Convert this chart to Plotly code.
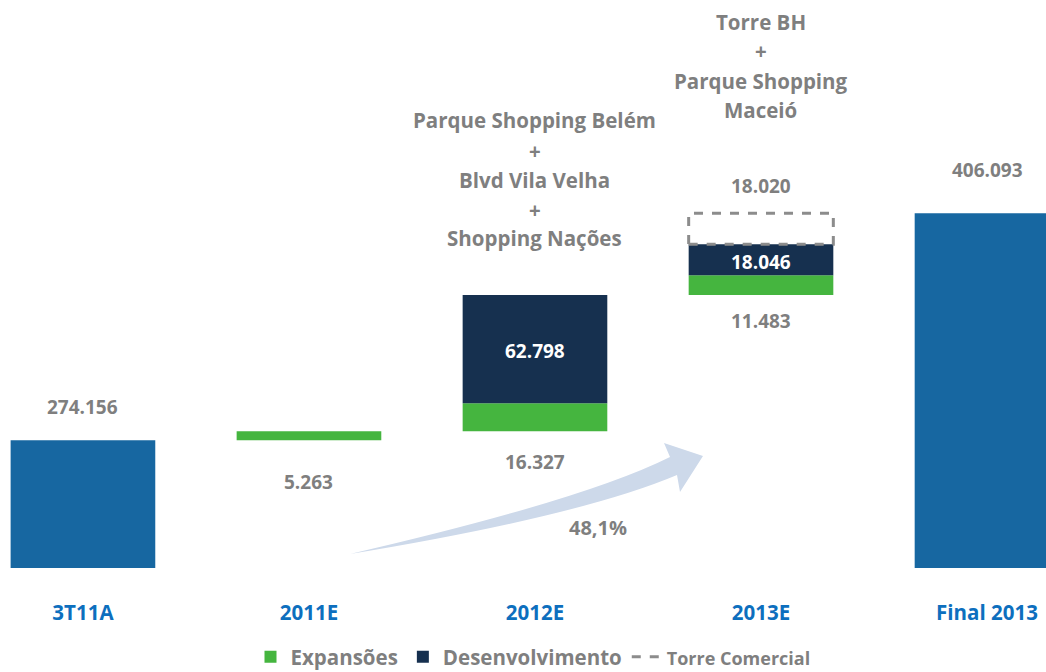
import plotly.graph_objects as go

# ---------------- data ----------------
categories = ["3T11A", "2011E", "2012E", "2013E", "Final 2013"]
totals = [274.156, None, None, None, 406.093]
expansoes = [None, 5.263, 16.327, 11.483, None]
desenvolvimento = [None, None, 62.798, 18.046, None]
torre_comercial = [None, None, None, 18.020, None]
growth_label = "48,1%"
projects_2012 = ["Parque Shopping Belém", "+", "Blvd Vila Velha", "+", "Shopping Nações"]
projects_2013 = ["Torre BH", "+", "Parque Shopping", "Maceió"]

# ---------------- layout constants ----------------
W, H = 1046, 672
PLOT_BOTTOM_PX = 568
BAR_W = 0.64
GRAY = "#7f7f7f"
GREEN = "#45b53f"
NAVY = "#16304f"
BLUE = "#1767a1"
TICK_BLUE = "#0d6fbe"
FONT = "Open Sans"

def fmt(v):
    return f"{v:.3f}"

xs = list(range(len(categories)))

# waterfall bases
exp_x, exp_y, exp_b = [], [], []
dev_x, dev_y, dev_b = [], [], []
tor_x, tor_y, tor_b = [], [], []
tot_x, tot_y = [], []
cum = None
for i in xs:
    if totals[i] is not None:
        tot_x.append(i); tot_y.append(totals[i])
        cum = totals[i]
        continue
    if expansoes[i] is not None:
        exp_x.append(i); exp_y.append(expansoes[i]); exp_b.append(cum)
        cum += expansoes[i]
    if desenvolvimento[i] is not None:
        dev_x.append(i); dev_y.append(desenvolvimento[i]); dev_b.append(cum)
        cum += desenvolvimento[i]
    if torre_comercial[i] is not None:
        tor_x.append(i); tor_y.append(torre_comercial[i]); tor_b.append(cum)
        cum += torre_comercial[i]

fig = go.Figure()

fig.add_trace(go.Bar(x=tot_x, y=tot_y, base=0, width=BAR_W, marker_color=BLUE,
                     marker_line_width=0, showlegend=False, hoverinfo="skip"))
fig.add_trace(go.Bar(x=exp_x, y=exp_y, base=exp_b, width=BAR_W, marker_color=GREEN,
                     marker_line_width=0, name="Expansões"))
fig.add_trace(go.Bar(x=dev_x, y=dev_y, base=dev_b, width=BAR_W, marker_color=NAVY,
                     marker_line_width=0, name="Desenvolvimento"))

# dashed box(es) for Torre Comercial
for k, (x, v, b) in enumerate(zip(tor_x, tor_y, tor_b)):
    l, r = x - BAR_W / 2, x + BAR_W / 2
    fig.add_trace(go.Scatter(x=[l, r, r, l, l], y=[b, b, b + v, b + v, b], mode="lines",
                             line=dict(color="#8c8c8c", width=3, dash="dash"),
                             name="<span style='font-size:18px'>Torre Comercial</span>",
                             showlegend=(k == 0), hoverinfo="skip"))

annotations = []
lab_font = dict(family=FONT, size=19, color=GRAY, weight="bold")
white_font = dict(family=FONT, size=19, color="white", weight="bold")

def ann(x, y, text, font, yshift=0, **kw):
    annotations.append(dict(x=x, y=y, xref="x", yref="y", text=text, showarrow=False,
                            font=font, yshift=yshift, yanchor="middle", **kw))

# totals labels
ann(tot_x[0], tot_y[0], fmt(tot_y[0]), lab_font, yshift=33)
ann(tot_x[1], tot_y[1], fmt(tot_y[1]), lab_font, yshift=43)
# expansões labels (below segment)
for x, v, b in zip(exp_x, exp_y, exp_b):
    shift = {1: -42, 2: -31, 3: -26}[x]
    ann(x, b, fmt(v), lab_font, yshift=shift)
# desenvolvimento labels (inside)
for x, v, b in zip(dev_x, dev_y, dev_b):
    ann(x, b + v / 2, fmt(v), white_font, yshift=-2)
# torre labels (above)
for x, v, b in zip(tor_x, tor_y, tor_b):
    ann(x, b + v, fmt(v), lab_font, yshift=27)

def py2paper(py):
    return (PLOT_BOTTOM_PX - py) / PLOT_BOTTOM_PX

def px2paper(px):
    return px / W

proj_font = dict(family=FONT, size=20.5, color=GRAY, weight="bold")
for t, py in zip(projects_2012, [120, 151, 180, 210, 238]):
    annotations.append(dict(x=2, y=py2paper(py), xref="x", yref="paper", text=t,
                            showarrow=False, font=proj_font, yanchor="middle"))
for t, py in zip(projects_2013, [22, 51, 81, 110]):
    annotations.append(dict(x=3, y=py2paper(py), xref="x", yref="paper", text=t,
                            showarrow=False, font=proj_font, yanchor="middle"))

annotations.append(dict(x=px2paper(598), y=py2paper(543), xref="paper", yref="paper",
                        text=growth_label, showarrow=False,
                        font=dict(family=FONT, size=20, color=GRAY, weight="bold")))

# curved growth arrow (decoration)
def P(px, py):
    return f"{px2paper(px):.5f},{py2paper(py):.5f}"

arrow_path = (f"M {P(350,554)} Q {P(584,500)} {P(670,457)} L {P(664,443)} L {P(703,456)} "
              f"L {P(680,492)} L {P(677,475)} Q {P(580,516)} {P(350,554)} Z")

fig.update_layout(
    width=W, height=H,
    margin=dict(l=0, r=0, t=0, b=H - PLOT_BOTTOM_PX, autoexpand=False),
    paper_bgcolor="white", plot_bgcolor="white",
    barmode="overlay",
    xaxis=dict(range=[-0.367, 4.261], tickvals=xs, ticktext=categories,
               tickfont=dict(family=FONT, size=20.5, color=TICK_BLUE, weight="bold"),
               showgrid=False, zeroline=False, showline=False, ticks="",
               ticklabelstandoff=30, fixedrange=True, automargin=False),
    yaxis=dict(range=[200, 530], visible=False, showgrid=False, zeroline=False, fixedrange=True),
    showlegend=True,
    legend=dict(orientation="h", x=px2paper(533), xanchor="center",
                y=py2paper(657), yanchor="middle",
                font=dict(family=FONT, size=20.5, color=GRAY, weight="bold"),
                bgcolor="rgba(0,0,0,0)", itemwidth=30, traceorder="normal"),
    annotations=annotations,
    shapes=[dict(type="path", path=arrow_path, xref="paper", yref="paper",
                 fillcolor="#cdd9ea", line=dict(width=0), layer="below")],
)

fig.write_html("out.html", config={"displayModeBar": False},
               post_script="document.body.style.margin='0';document.body.style.overflow='hidden';")
